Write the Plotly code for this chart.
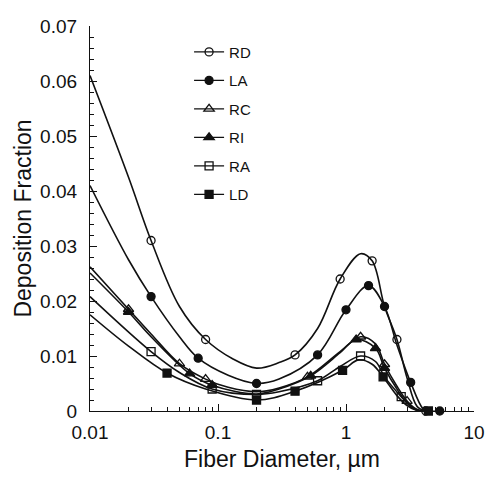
import plotly.graph_objects as go

# fiber diameter (um) and deposition fraction for each region
diam_rd = [0.01, 0.02, 0.03, 0.05, 0.08, 0.13, 0.2, 0.3, 0.4, 0.6, 0.9, 1.3, 1.6, 2.0, 2.5, 3.0, 3.6, 4.2]
frac_rd = [0.061, 0.0425, 0.031, 0.019, 0.013, 0.0095, 0.0078, 0.0088, 0.0102, 0.015, 0.024, 0.0286, 0.0273, 0.019, 0.013, 0.006, 0.0008, 0.0]
mark_rd = [2, 4, 8, 10, 12, 14, 17]

diam_la = [0.01, 0.02, 0.03, 0.05, 0.07, 0.12, 0.2, 0.3, 0.6, 1.0, 1.5, 2.0, 2.5, 3.2, 4.0, 4.4, 5.4]
frac_la = [0.041, 0.0275, 0.0208, 0.0135, 0.0096, 0.0065, 0.005, 0.0058, 0.0102, 0.0184, 0.0228, 0.019, 0.012, 0.0052, 0.0004, 0.0, 0.0]
mark_la = [2, 4, 6, 8, 9, 10, 11, 13, 16]

diam_rc = [0.01, 0.02, 0.03, 0.05, 0.08, 0.12, 0.2, 0.3, 0.5, 0.9, 1.3, 1.7, 2.0, 2.5, 3.0, 3.5, 4.0]
frac_rc = [0.0262, 0.0185, 0.014, 0.0086, 0.0058, 0.0043, 0.0035, 0.0042, 0.0062, 0.0108, 0.0135, 0.0122, 0.0085, 0.0045, 0.0018, 0.0004, 0.0]
mark_rc = [1, 3, 4, 8, 10, 12, 14]

diam_ri = [0.01, 0.02, 0.03, 0.06, 0.09, 0.2, 0.3, 0.53, 0.9, 1.2, 1.7, 2.0, 2.5, 3.0, 3.5, 4.0]
frac_ri = [0.0251, 0.018, 0.0135, 0.0068, 0.0047, 0.0031, 0.004, 0.0064, 0.0106, 0.013, 0.0114, 0.0078, 0.004, 0.0015, 0.0003, 0.0]
mark_ri = [1, 3, 4, 7, 9, 10, 11]

diam_ra = [0.01, 0.03, 0.05, 0.09, 0.2, 0.3, 0.6, 0.9, 1.3, 1.7, 2.0, 2.7, 3.2, 3.7]
frac_ra = [0.0208, 0.0108, 0.007, 0.004, 0.003, 0.0035, 0.0055, 0.0081, 0.01, 0.009, 0.0062, 0.0026, 0.0008, 0.0]
mark_ra = [1, 3, 4, 6, 8, 11]

diam_ld = [0.01, 0.02, 0.04, 0.08, 0.2, 0.4, 0.94, 1.25, 1.6, 1.95, 2.5, 3.0, 3.5, 4.4]
frac_ld = [0.0175, 0.0118, 0.0069, 0.004, 0.002, 0.0036, 0.0074, 0.0093, 0.0085, 0.0062, 0.0028, 0.001, 0.0002, 0.0]
mark_ld = [2, 4, 5, 6, 9, 13]

series = [
	('RD', diam_rd, frac_rd, mark_rd, 'circle-open'),
	('LA', diam_la, frac_la, mark_la, 'circle'),
	('RC', diam_rc, frac_rc, mark_rc, 'triangle-up-open'),
	('RI', diam_ri, frac_ri, mark_ri, 'triangle-up'),
	('RA', diam_ra, frac_ra, mark_ra, 'square-open'),
	('LD', diam_ld, frac_ld, mark_ld, 'square'),
]

x_ticks = [0.01, 0.1, 1, 10]
x_labels = ['0.01', '0.1', '1', '10']
y_ticks = [0, 0.01, 0.02, 0.03, 0.04, 0.05, 0.06, 0.07]
y_labels = ['0', '0.01', '0.02', '0.03', '0.04', '0.05', '0.06', '0.07']

# minor ticks 2..9 in each decade
x_minor = [m * d for d in (0.01, 0.1, 1) for m in range(2, 10)]

FONT = 'Liberation Sans, Arial, Helvetica, sans-serif'
INK = '#111111'

fig = go.Figure()

for name, xs, ys, marks, symbol in series:
	marker = {
		'symbol': symbol,
		'size': 8 if 'triangle' not in symbol else 9,
		'color': INK,
		'line': {'color': INK, 'width': 1.3},
	}
	# smooth curve
	fig.add_trace(go.Scatter(
		x=xs, y=ys, mode='lines', showlegend=False, hoverinfo='skip',
		line={'color': INK, 'width': 1.6, 'shape': 'spline', 'smoothing': 1.0},
	))
	# data points on the curve
	fig.add_trace(go.Scatter(
		x=[xs[i] for i in marks], y=[ys[i] for i in marks],
		mode='markers', showlegend=False, marker=marker, cliponaxis=False,
	))
	# legend entry
	fig.add_trace(go.Scatter(
		x=[None], y=[None], mode='lines+markers', name=name, legendgroup=name,
		line={'color': INK, 'width': 1.3}, marker=marker,
	))

# the page body adds an 8px offset, so margins are shifted up/left to compensate
fig.update_layout(
	template='none',
	width=501,
	height=480,
	margin={'l': 82, 'r': 35, 't': 18, 'b': 77},
	paper_bgcolor='white',
	plot_bgcolor='white',
	font={'family': FONT, 'size': 19, 'color': INK},
	legend={
		'x': 0.258, 'y': 0.975, 'xanchor': 'left', 'yanchor': 'top',
		'font': {'size': 15},
		'traceorder': 'grouped',
		'tracegroupgap': 6,
		'bgcolor': 'rgba(0,0,0,0)',
	},
	xaxis={
		'type': 'log',
		'range': [-2, 1],
		'automargin': False,
		'tickvals': x_ticks,
		'ticktext': x_labels,
		'ticks': 'inside',
		'ticklen': 7,
		'tickwidth': 1,
		'tickcolor': INK,
		'ticklabelstandoff': 4,
		'showline': True,
		'linecolor': INK,
		'linewidth': 1.3,
		'showgrid': False,
		'zeroline': False,
		'minor': {'ticks': 'inside', 'ticklen': 4, 'tickvals': x_minor, 'tickcolor': INK, 'showgrid': False},
		'title': {'text': 'Fiber Diameter, \u00b5m', 'standoff': 8},
	},
	yaxis={
		'range': [0, 0.07],
		'automargin': False,
		'tickvals': y_ticks,
		'ticktext': y_labels,
		'ticks': 'inside',
		'ticklen': 7,
		'tickwidth': 1,
		'tickcolor': INK,
		'ticklabelstandoff': 8,
		'showline': True,
		'linecolor': INK,
		'linewidth': 1.3,
		'showgrid': False,
		'zeroline': False,
		'minor': {'ticks': 'inside', 'ticklen': 4, 'dtick': 0.002, 'tickcolor': INK, 'showgrid': False},
		'title': {'text': 'Deposition Fraction', 'standoff': 2},
	},
)

fig.write_html('out.html')
